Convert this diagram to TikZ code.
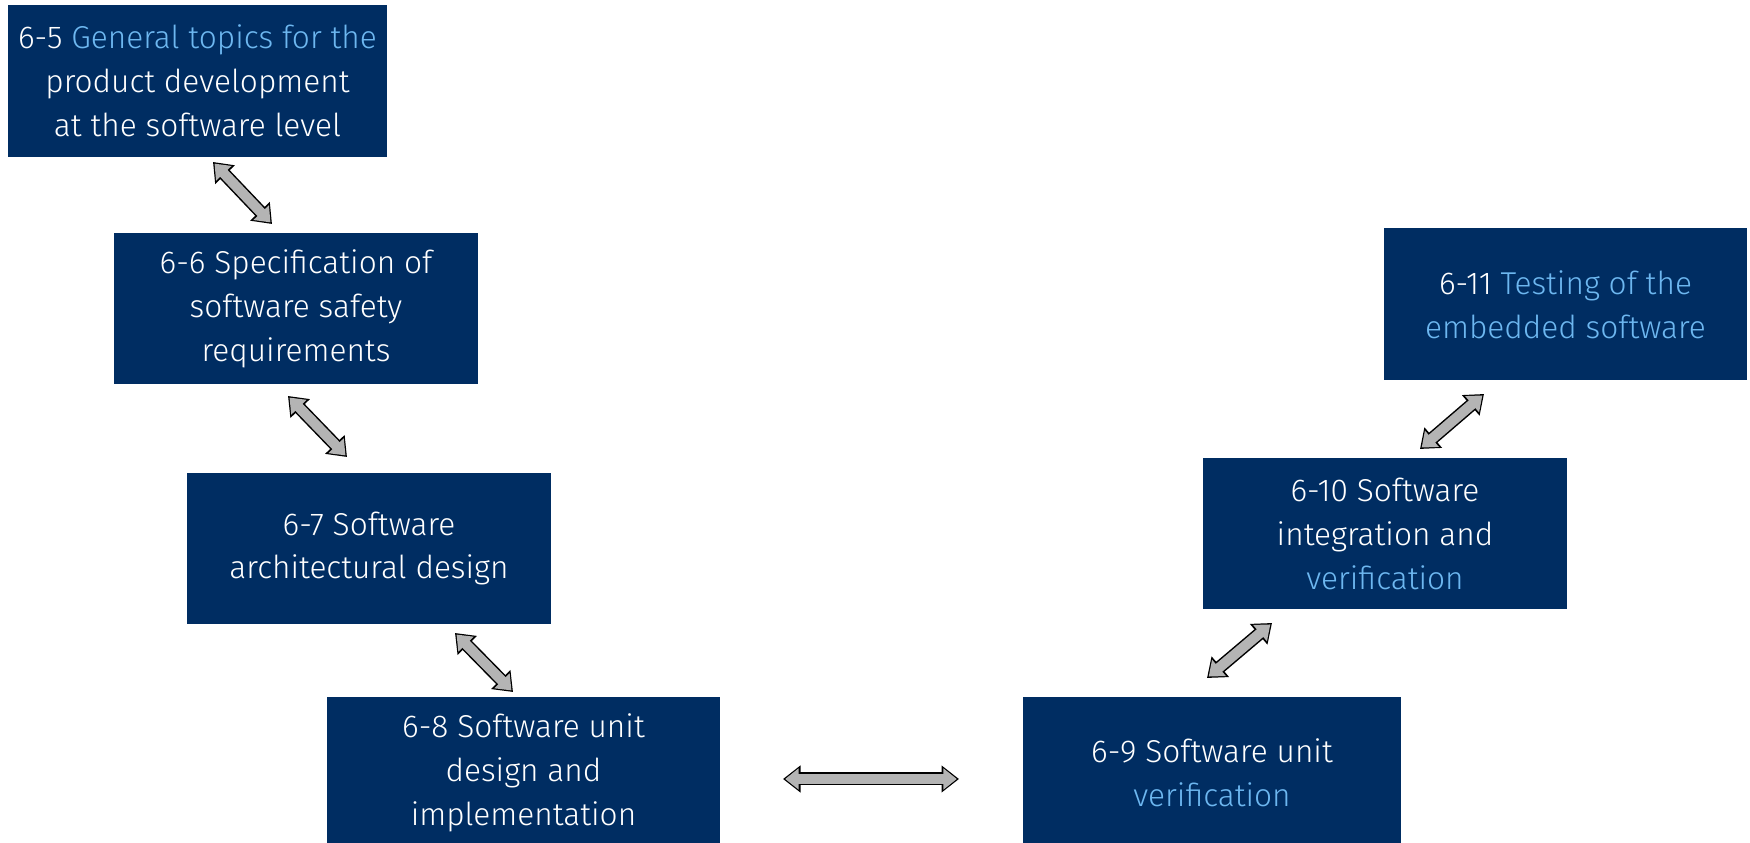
\documentclass[tikz,border=0pt]{standalone}
\usepackage{fontspec}
\setmainfont{Fira Sans}[UprightFont=* Light]
\usetikzlibrary{arrows.meta}

\definecolor{navy}{HTML}{002D62}
\definecolor{skyblue}{HTML}{6DB7F0}
\definecolor{arrowgray}{HTML}{B4B4B4}
\newcommand{\hl}[1]{\textcolor{skyblue}{#1}}

\tikzset{
  box/.style={fill=navy,text=white,align=center,inner sep=0pt,
    font=\fontsize{9}{12.5}\selectfont},
  blockarrow/.style={line width=1.0mm,draw=arrowgray,
    {Triangle[length=1.35mm,width=2.05mm]}-{Triangle[length=1.35mm,width=2.05mm]},
    shorten <=0.22mm,shorten >=0.22mm,
    preaction={draw=black,line width=1.3mm,shorten <=0pt,shorten >=0pt,
      {Triangle[length=1.75mm,width=2.6mm]}-{Triangle[length=1.75mm,width=2.6mm]}}}
}

\begin{document}
\begin{tikzpicture}[x=0.1mm,y=-0.1mm]
  \useasboundingbox (0,0) rectangle (1750,843);
  % boxes of the software level
  \node[box,minimum width=37.9mm,minimum height=15.2mm] (b65) at (197.5,81)
    {6-5 \hl{General topics for the}\\product development\\at the software level};
  \node[box,minimum width=36.4mm,minimum height=15.1mm] (b66) at (296,309)
    {6-6 Specification of\\software safety\\requirements};
  \node[box,minimum width=36.4mm,minimum height=15.1mm] (b67) at (369,548.5)
    {6-7 Software\\architectural design};
  \node[box,minimum width=39.3mm,minimum height=15.1mm] (b68) at (523.5,772.5)
    {6-8 Software unit\\design and\\implementation};
  \node[box,minimum width=37.8mm,minimum height=15.1mm] (b69) at (1212,772.5)
    {6-9 Software unit\\\hl{verification}};
  \node[box,minimum width=36.4mm,minimum height=15.1mm] (b610) at (1385,533.5)
    {6-10 Software\\integration and\\\hl{verification}};
  \node[box,minimum width=36.3mm,minimum height=15.2mm] (b611) at (1565.5,304.5)
    {6-11 \hl{Testing of the}\\\hl{embedded software}};
  % arrow ends
  \coordinate (a1s) at (213,162);  \coordinate (a1e) at (272,224);
  \coordinate (a2s) at (288,396);  \coordinate (a2e) at (347,457);
  \coordinate (a3s) at (455,633);  \coordinate (a3e) at (513,692);
  \coordinate (a4s) at (783,779);  \coordinate (a4e) at (959,779);
  \coordinate (a5s) at (1207,678); \coordinate (a5e) at (1272,623);
  \coordinate (a6s) at (1420,449); \coordinate (a6e) at (1484,394);
  \foreach \i in {1,...,6} \draw[blockarrow] (a\i s) -- (a\i e);
\end{tikzpicture}
\end{document}
